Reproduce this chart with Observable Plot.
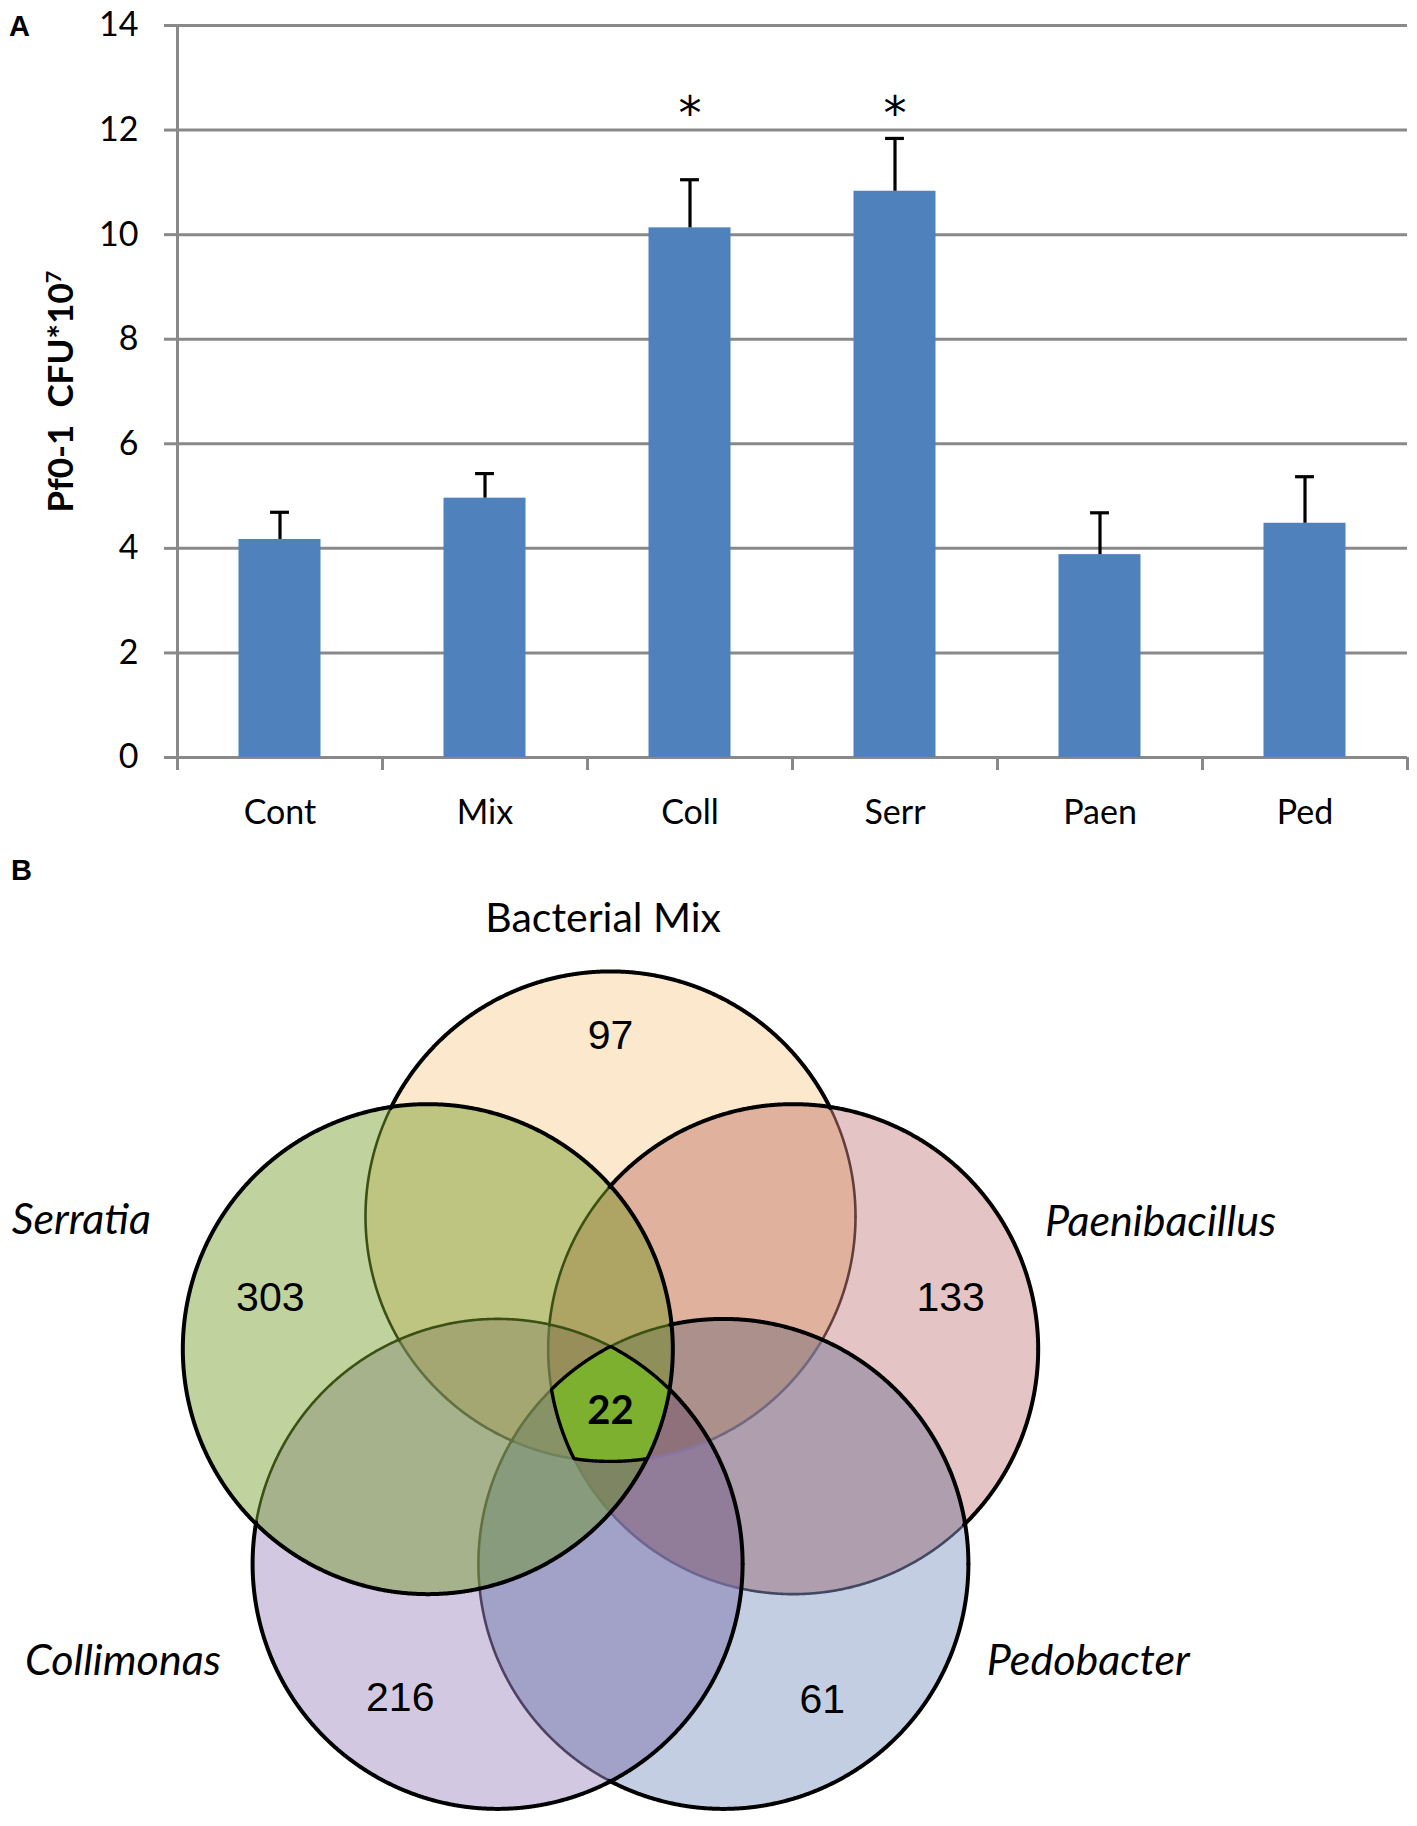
<!DOCTYPE html>
<html><head><meta charset="utf-8">
<script src="https://cdn.jsdelivr.net/npm/d3@7"></script>
<script src="https://cdn.jsdelivr.net/npm/@observablehq/plot@0.6"></script>
<style>
body{margin:0;background:#fff;}
#fig{position:relative;width:1417px;height:1826px;overflow:hidden;background:#fff;font-family:Lato,sans-serif;}
.panel-letter{position:absolute;font-family:"Liberation Sans",Arial,sans-serif;font-weight:bold;font-size:29px;line-height:1;color:#000;}
#panelA{position:absolute;left:0;top:0;}
#panelB{position:absolute;left:0;top:860px;}
</style></head><body>
<div id="fig">
  <div id="panelA"></div>
  <div id="panelB"></div>
  <div class="panel-letter" style="left:9px;top:12px">A</div>
  <div class="panel-letter" style="left:11px;top:856px">B</div>
</div>
<script>
// ---------- Panel A data ----------
const categories = ["Cont", "Mix", "Coll", "Serr", "Paen", "Ped"];
const meanCFU = [4.17, 4.96, 10.13, 10.83, 3.88, 4.48];
const errCFU = [0.52, 0.47, 0.92, 1.01, 0.80, 0.89];
const significance = ["", "", "*", "*", "", ""];
const yTicks = [0, 2, 4, 6, 8, 10, 12, 14];
const yLabel = "Pf0-1\u00a0 CFU*10";
const yLabelExp = "7";

// ---------- Panel B data ----------
const setNames = ["Bacterial Mix", "Paenibacillus", "Pedobacter", "Collimonas", "Serratia"];
const uniqueCounts = [97, 133, 61, 216, 303];
const coreCount = 22;
const setColors = ["#fbe8cd", "#e4c4c4", "#c4cee3", "#d3c8e1", "#c1d49d"];   // colour of each set's own region
const lineTints = ["#f6cc90", "#c37c7c", "#7f92c4", "#9a84bd", "#759f25"];   // tint of outlines seen through a set
const topSetColor = "#62910d";   // translucent fill of the last-drawn set (Serratia)
const topSetAlpha = 0.4;
const coreColor = "#7cb02e";

// ---------- Panel A ----------
const rows = categories.map((c, i) => ({cat: c, idx: i, mean: meanCFU[i], err: errCFU[i], sig: significance[i]}));
const grey = "#898989";
const capHalf = 0.046;

const plotA = Plot.plot({
  width: 1417, height: 860,
  marginLeft: 177, marginRight: 10, marginTop: 25, marginBottom: 103,
  x: {domain: [0, categories.length]},
  y: {domain: [0, 14]},
  style: {fontFamily: "Lato, sans-serif", color: "black", background: "white", overflow: "visible"},
  marks: [
    Plot.ruleY(yTicks, {stroke: grey, strokeWidth: 3}),
    Plot.ruleX([0], {stroke: grey, strokeWidth: 3}),
    Plot.axisY(yTicks, {tickSize: 13, tickPadding: 26, stroke: grey, strokeWidth: 3, fill: "black", fontSize: 34,
      tickFormat: d => String(d), label: null}),
    Plot.axisX(d3.range(categories.length + 1), {tickSize: 13, stroke: grey, strokeWidth: 3, tickFormat: () => "", label: null}),
    Plot.axisX(rows.map(d => d.idx + 0.5), {tickSize: 0, tickPadding: 42, fontSize: 34, fill: "black",
      tickFormat: v => categories[Math.round(v - 0.5)], label: null}),
    Plot.rectY(rows, {x1: d => d.idx + 0.3, x2: d => d.idx + 0.7, y1: 0, y2: "mean", fill: "#4f81bd"}),
    Plot.ruleX(rows, {x: d => d.idx + 0.5, y1: "mean", y2: d => d.mean + d.err, stroke: "black", strokeWidth: 3.2}),
    Plot.ruleY(rows, {y: d => d.mean + d.err, x1: d => d.idx + 0.5 - capHalf, x2: d => d.idx + 0.5 + capHalf, stroke: "black", strokeWidth: 3.2}),
    Plot.text(rows.filter(d => d.sig), {x: d => d.idx + 0.5, y: 12.3, text: "sig", fontSize: 46,
      fontFamily: "DejaVu Sans, sans-serif", fill: "black"}),
    Plot.text([yLabel], {frameAnchor: "left", textAnchor: "middle", rotate: -90, dx: -116, fontSize: 35, fontWeight: "bold", fill: "black"})
  ]
});
document.getElementById("panelA").appendChild(plotA);
d3.select(plotA).selectAll("text").filter(function() { return this.textContent === yLabel; })
  .each(function() {
    const t = d3.select(this);
    t.style("white-space", "pre");
    t.text(null);
    t.append("tspan").text(yLabel);
    t.append("tspan").attr("dy", "-0.55em").attr("font-size", "0.62em").text(yLabelExp);
  });

// ---------- Panel B ----------
const U = 245;            // pixels per venn unit (circle radius = 1)
const Wb = 1417, Hb = 966, cxPx = 610, cyPx = 548;
const ringR = 0.784;      // distance of circle centres from the venn centre
const nSets = setNames.length;
const topSet = nSets - 1;
const angles = setNames.map((_, i) => (-90 + 72 * i) * Math.PI / 180);
const centers = angles.map(a => [ringR * Math.cos(a), ringR * Math.sin(a)]);
const countDist = [1.52, 1.46, 1.47, 1.46, 1.46];
const nameOffsets = [[-0.03, -2.0], [2.245, -0.76], [1.95, 1.03], [-1.99, 1.03], [-2.16, -0.77]];
const inside = (p, j, tol) => Math.hypot(p[0] - centers[j][0], p[1] - centers[j][1]) <= 1 + tol;

// region colour: lower sets multiply, the top set is laid over them translucently
function regionColor(idxs) {
  let r = 255, g = 255, b = 255;
  idxs.filter(i => i !== topSet).forEach(i => { const c = d3.rgb(setColors[i]); r = r * c.r / 255; g = g * c.g / 255; b = b * c.b / 255; });
  let col = d3.rgb(r, g, b);
  if (idxs.includes(topSet)) col = d3.rgb(d3.interpolateRgb(col, topSetColor)(topSetAlpha));
  return col.formatHex();
}
const NS = 1440;
const fillLevels = d3.range(nSets).map(() => []);
for (let mask = 1; mask < (1 << nSets); mask++) {
  const members = d3.range(nSets).filter(i => mask & (1 << i));
  const pts = [];
  members.forEach(i => {
    for (let k = 0; k < NS; k++) {
      const t = k / NS * 2 * Math.PI;
      const p = [centers[i][0] + Math.cos(t), centers[i][1] + Math.sin(t)];
      if (members.every(j => j === i || inside(p, j, 1e-7))) pts.push(p);
    }
  });
  if (pts.length < 3) continue;
  const mx = d3.mean(pts, p => p[0]), my = d3.mean(pts, p => p[1]);
  pts.sort((a, b) => Math.atan2(a[1] - my, a[0] - mx) - Math.atan2(b[1] - my, b[0] - mx));
  const color = members.length === nSets ? coreColor : regionColor(members);
  pts.forEach(p => fillLevels[members.length - 1].push({x: p[0], y: p[1], key: mask, color}));
}
const corePts = fillLevels[nSets - 1];

// outlines: each circle drawn in order; parts lying under later circles are seen through their fill
const blackLines = [], fadedLines = [];
setNames.forEach((s, i) => {
  const P = k => { const t = k / NS * 2 * Math.PI; return [centers[i][0] + Math.cos(t), centers[i][1] + Math.sin(t)]; };
  let prevKey = null, run = 0, target = null, color = null;
  for (let k = 0; k < NS; k++) {
    const m = P(k + 0.5);
    const cover = d3.range(i + 1, nSets).filter(j => inside(m, j, -0.003));
    const key = cover.join(",");
    if (key !== prevKey) {
      run++; prevKey = key;
      color = cover.reduce((c, j) => d3.interpolateRgb(c, lineTints[j])(0.5), "#000000");
      target = cover.length ? fadedLines : blackLines;
      const p0 = P(k);
      target.push({x: p0[0], y: p0[1], z: `${i}-${run}`, color});
    }
    const p1 = P(k + 1);
    target.push({x: p1[0], y: p1[1], z: `${i}-${run}`, color});
  }
});

const countRows = setNames.map((s, i) => ({set: s, n: uniqueCounts[i],
  x: countDist[i] * Math.cos(angles[i]), y: countDist[i] * Math.sin(angles[i])}));
const nameRows = setNames.map((s, i) => ({set: s, x: nameOffsets[i][0], y: nameOffsets[i][1], italic: i !== 0}));

const plotB = Plot.plot({
  width: Wb, height: Hb, margin: 0,
  x: {domain: [-cxPx / U, (Wb - cxPx) / U], range: [0, Wb], axis: null},
  y: {domain: [-cyPx / U, (Hb - cyPx) / U], range: [0, Hb], axis: null},
  color: {type: "identity"},
  style: {fontFamily: "Lato, sans-serif", color: "black", background: "white"},
  marks: [
    ...fillLevels.slice(0, nSets - 1).map(level => Plot.line(level, {x: "x", y: "y", z: "key", fill: "color",
      stroke: "color", strokeWidth: 0.8, curve: "linear-closed"})),
    Plot.line(fadedLines, {x: "x", y: "y", z: "z", stroke: "color", strokeWidth: 2.6, curve: "linear"}),
    Plot.line(blackLines, {x: "x", y: "y", z: "z", stroke: "color", strokeWidth: 4, curve: "linear"}),
    Plot.line(corePts, {x: "x", y: "y", z: "key", fill: coreColor, stroke: "black", strokeWidth: 3.4, curve: "linear-closed"}),
    Plot.text(countRows, {x: "x", y: "y", text: d => String(d.n), fontSize: 41, fontFamily: "Liberation Sans, Arial, sans-serif", fill: "black"}),
    Plot.text([coreCount], {x: 0, y: 0.01, text: d => String(d), fontSize: 40, fontWeight: "bold", fill: "black"}),
    Plot.text(nameRows.filter(d => !d.italic), {x: "x", y: "y", text: "set", fontSize: 41, fill: "black"}),
    Plot.text(nameRows.filter(d => d.italic), {x: "x", y: "y", text: "set", fontSize: 43, fontStyle: "italic", fill: "black"})
  ]
});
document.getElementById("panelB").appendChild(plotB);
</script>
</body></html>
